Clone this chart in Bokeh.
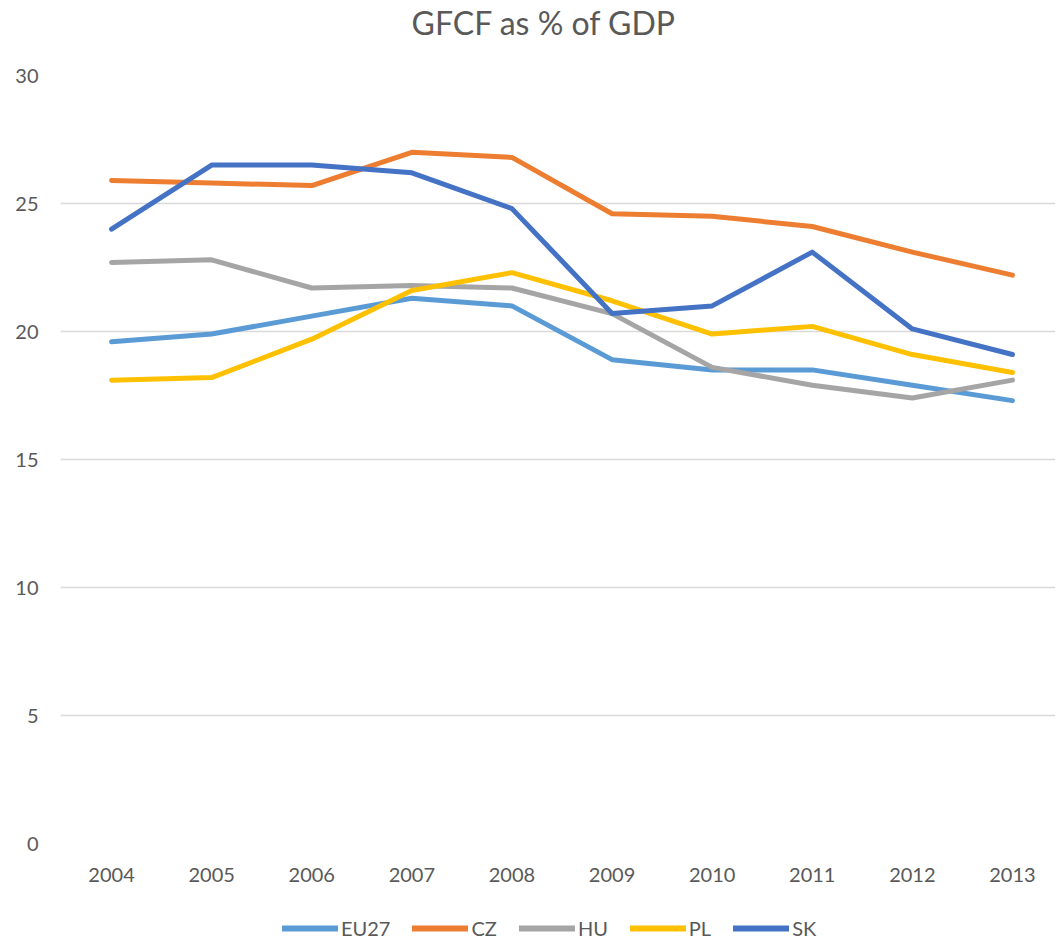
from bokeh.plotting import figure
from bokeh.models import Range1d, Legend, LegendItem, FixedTicker, Title
from bokeh.layouts import column
from bokeh.embed import file_html
from bokeh.resources import INLINE

years = ["2004", "2005", "2006", "2007", "2008", "2009", "2010", "2011", "2012", "2013"]
eu27 = [19.6, 19.9, 20.6, 21.3, 21.0, 18.9, 18.5, 18.5, 17.9, 17.3]
cz = [25.9, 25.8, 25.7, 27.0, 26.8, 24.6, 24.5, 24.1, 23.1, 22.2]
hu = [22.7, 22.8, 21.7, 21.8, 21.7, 20.7, 18.6, 17.9, 17.4, 18.1]
pl = [18.1, 18.2, 19.7, 21.6, 22.3, 21.2, 19.9, 20.2, 19.1, 18.4]
sk = [24.0, 26.5, 26.5, 26.2, 24.8, 20.7, 21.0, 23.1, 20.1, 19.1]

series = [("EU27", eu27, "#5B9BD5"), ("CZ", cz, "#ED7D31"), ("HU", hu, "#A5A5A5"),
          ("PL", pl, "#FFC000"), ("SK", sk, "#4472C4")]

FONT = "Lato"
TXT = "#595959"

p = figure(frame_width=995, frame_height=768, output_backend="svg", toolbar_location=None,
           x_range=Range1d(-0.51, 9.43), y_range=Range1d(0, 30),
           min_border_left=0, min_border_right=0, min_border_top=0, min_border_bottom=0)
# real title (outer) and a spacer title next to the frame
p.title = Title(text="GFCF as % of GDP", align="left", offset=351, standoff=0,
                text_font=FONT, text_font_size="32px", text_color=TXT,
                text_font_style="normal")
p.add_layout(Title(text=" ", text_font_size="1px", standoff=31), "above")
p.outline_line_color = None
p.background_fill_color = "white"
p.border_fill_color = "white"

xs = list(range(len(years)))
for name, vals, col in series:
    p.line(xs, vals, line_color=col, line_width=5, line_cap="round", line_join="round")

p.xaxis.ticker = FixedTicker(ticks=xs)
p.xaxis.major_label_overrides = {i: y for i, y in enumerate(years)}
p.yaxis.ticker = FixedTicker(ticks=[0, 5, 10, 15, 20, 25, 30])
for ax in (p.xaxis, p.yaxis):
    ax.axis_line_color = None
    ax.major_tick_line_color = None
    ax.minor_tick_line_color = None
    ax.major_label_text_font = FONT
    ax.major_label_text_font_size = "20px"
    ax.major_label_text_color = TXT
    ax.axis_label = " "
    ax.axis_label_text_font_size = "1px"
p.yaxis.major_label_standoff = 16
p.yaxis.axis_label_standoff = 8
p.xaxis.major_label_standoff = 18
p.xaxis.axis_label_standoff = 18

p.xgrid.grid_line_color = None
p.ygrid.grid_line_color = "#D9D9D9"
p.ygrid.grid_line_width = 1.5

# legend strip below the chart (its lines are out of view; only the legend shows)
lg = figure(frame_width=1048, frame_height=40, output_backend="svg", toolbar_location=None,
            x_range=Range1d(100, 101), y_range=Range1d(100, 101),
            x_axis_location=None, y_axis_location=None,
            min_border_left=0, min_border_right=0, min_border_top=0, min_border_bottom=0)
lg.outline_line_color = None
lg.xgrid.visible = False
lg.ygrid.visible = False
items = []
for name, vals, col in series:
    r = lg.line(xs, vals, line_color=col, line_width=6, line_cap="round")
    items.append(LegendItem(label=name, renderers=[r]))
legend = Legend(items=items, orientation="horizontal", location=(282, 6),
                label_text_font=FONT, label_text_font_size="20px", label_text_color=TXT,
                glyph_width=56, glyph_height=24, label_standoff=3, spacing=22,
                border_line_color=None, background_fill_alpha=0, margin=0, padding=0)
lg.add_layout(legend, "center")

open("out.html", "w").write(file_html(column(p, lg, spacing=0), INLINE))
